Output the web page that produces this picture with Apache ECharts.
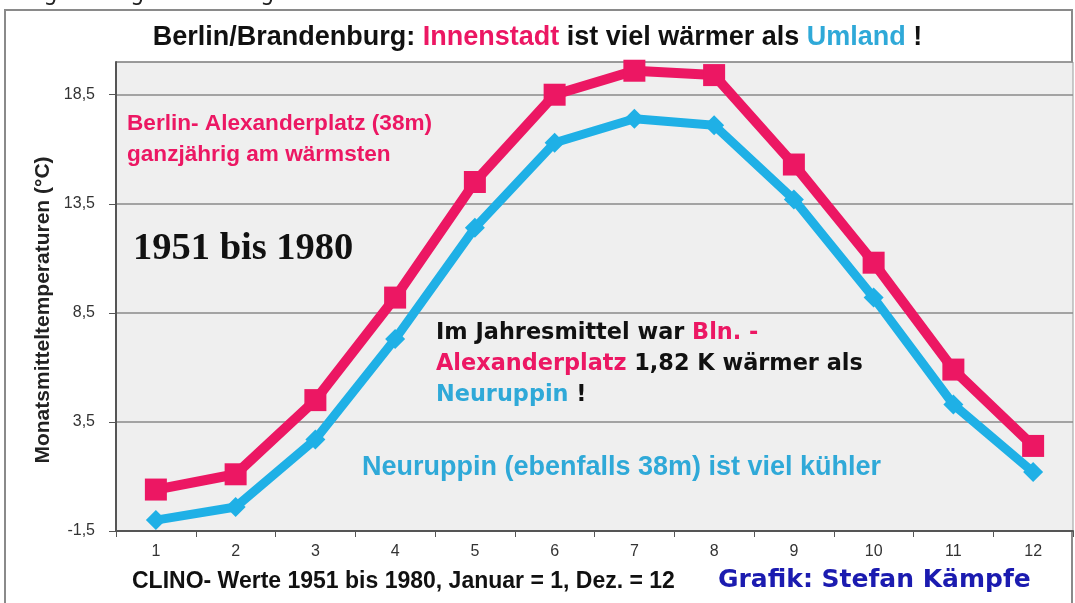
<!DOCTYPE html>
<html>
<head>
<meta charset="utf-8">
<script src="https://cdn.jsdelivr.net/npm/echarts@6/dist/echarts.min.js"></script>
<style>
  html, body { margin: 0; padding: 0; background: #fff; }
  #chart { width: 1075px; height: 603px; }
</style>
</head>
<body>
<div id="chart"></div>
<script>
// Monate 1..12
const months = ['1', '2', '3', '4', '5', '6', '7', '8', '9', '10', '11', '12'];
// Berlin-Alexanderplatz, Monatsmittel (°C)
const alexanderplatz = [0.4, 1.1, 4.5, 9.2, 14.5, 18.5, 19.6, 19.4, 15.3, 10.8, 5.9, 2.4];
// Neuruppin, Monatsmittel (°C)
const neuruppin = [-1.0, -0.4, 2.7, 7.3, 12.4, 16.3, 17.4, 17.1, 13.7, 9.2, 4.3, 1.2];
// y-Achse
const yMin = -1.5;
const yMax = 20;
const yStep = 5;

const RED = '#ec1763';
const BLUE = '#1fb0e6';
const SANS = '"Liberation Sans", Arial, sans-serif';
const HEAVY = '"DejaVu Sans", sans-serif';

const myChart = echarts.init(document.getElementById('chart'));
const option = {
  backgroundColor: '#fff',
  animation: false,
  grid: {
    left: 116, top: 62, right: 2, bottom: 72,
    show: true,
    backgroundColor: '#efefef',
    borderColor: '#9a9a9a',
    borderWidth: 1
  },
  xAxis: {
    type: 'category',
    data: months,
    boundaryGap: true,
    axisLine: { onZero: false, lineStyle: { color: '#555', width: 2 } },
    axisTick: { show: true, length: 6, lineStyle: { color: '#555', width: 1 } },
    axisLabel: { color: '#333', fontFamily: SANS, fontSize: 16, margin: 13 }
  },
  yAxis: {
    type: 'value',
    min: yMin,
    max: yMax,
    interval: yStep,
    axisLine: { show: true, lineStyle: { color: '#555', width: 2 } },
    axisTick: { show: true, length: 7, lineStyle: { color: '#555' } },
    axisLabel: {
      color: '#333', fontFamily: SANS, fontSize: 16, margin: 21,
      showMaxLabel: false,
      formatter: v => v.toFixed(1).replace('.', ',')
    },
    splitLine: { lineStyle: { color: '#8a8a8a', width: 1.5 } }
  },
  series: [
    {
      name: 'Berlin-Alexanderplatz',
      type: 'line',
      data: alexanderplatz,
      symbol: 'rect',
      symbolSize: 22,
      lineStyle: { color: RED, width: 10 },
      itemStyle: { color: RED },
      z: 3
    },
    {
      name: 'Neuruppin',
      type: 'line',
      data: neuruppin,
      symbol: 'diamond',
      symbolSize: 20,
      lineStyle: { color: BLUE, width: 9 },
      itemStyle: { color: BLUE },
      z: 2
    }
  ],
  graphic: [
    // Rahmen
    { type: 'rect', shape: { x: 5, y: 10, width: 1067, height: 620 }, style: { fill: 'none', stroke: '#8a8a8a', lineWidth: 2 }, z: -10, silent: true },
    // abgeschnittene Zeile oben
    { type: 'text', left: 0, top: -18, style: { text: 'zeigt folgendes Ergebnis:', font: '24px "DejaVu Sans Mono", monospace', fill: '#222' } },
    // Titel
    {
      type: 'text', left: 'center', top: 24,
      style: {
        text: '{b|Berlin/Brandenburg: }{r|Innenstadt}{b| ist viel wärmer als }{c|Umland}{b| !}',
        rich: {
          b: { fontFamily: SANS, fontWeight: 'bold', fontSize: 27, fill: '#111' },
          r: { fontFamily: SANS, fontWeight: 'bold', fontSize: 27, fill: RED },
          c: { fontFamily: SANS, fontWeight: 'bold', fontSize: 27, fill: '#2fa9d8' }
        }
      }
    },
    // y-Achsenname
    {
      type: 'text', x: 43, y: 310, rotation: Math.PI / 2,
      style: { text: 'Monatsmitteltemperaturen (°C)', font: 'bold 21px ' + SANS, fill: '#222', align: 'center', verticalAlign: 'middle' }
    },
    // Berlin-Text
    {
      type: 'text', left: 127, top: 108,
      style: { text: 'Berlin- Alexanderplatz (38m)\nganzjährig am wärmsten', font: 'bold 22.6px ' + SANS, fill: RED, lineHeight: 31 }
    },
    // Zeitraum
    {
      type: 'text', left: 133, top: 230,
      style: { text: '1951 bis 1980', font: 'bold 38.5px "Liberation Serif", "Times New Roman", serif', fill: '#111' }
    },
    // Jahresmittel-Text
    {
      type: 'text', left: 436, top: 322,
      style: {
        text: '{k|Im Jahresmittel war }{r|Bln. -}\n{r|Alexanderplatz}{k| 1,82 K wärmer als}\n{c|Neuruppin}{k| !}',
        rich: {
          k: { fontFamily: HEAVY, fontWeight: 'bold', fontSize: 22.4, fill: '#111', lineHeight: 31 },
          r: { fontFamily: HEAVY, fontWeight: 'bold', fontSize: 22.4, fill: RED, lineHeight: 31 },
          c: { fontFamily: HEAVY, fontWeight: 'bold', fontSize: 22.4, fill: '#2fa9d8', lineHeight: 31 }
        }
      }
    },
    // Neuruppin-Text
    {
      type: 'text', left: 362, top: 454,
      style: { text: 'Neuruppin (ebenfalls 38m) ist viel kühler', font: 'bold 27px ' + SANS, fill: '#2fa9d8' }
    },
    // Fußzeile
    {
      type: 'text', left: 132, top: 570,
      style: { text: 'CLINO- Werte 1951 bis 1980, Januar = 1, Dez. = 12', font: 'bold 23px ' + SANS, fill: '#111' }
    },
    {
      type: 'text', left: 718, top: 568,
      style: { text: 'Grafik: Stefan Kämpfe', font: 'bold 25px ' + HEAVY, fill: '#1b1bb0' }
    }
  ]
};
option && myChart.setOption(option);
</script>
</body>
</html>
